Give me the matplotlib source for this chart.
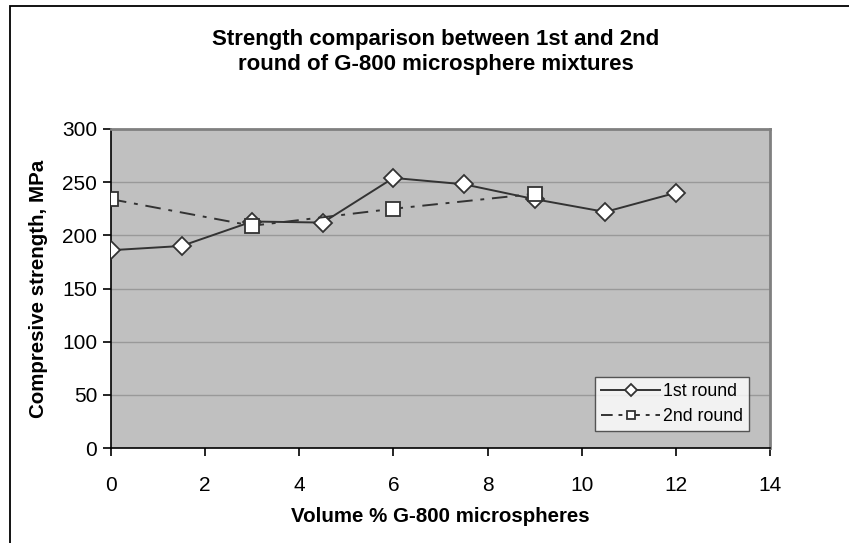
import numpy as np
import matplotlib.pyplot as plt
from matplotlib.patches import Rectangle as Rec

plt.rcParams['font.family'] = ['Liberation Sans', 'DejaVu Sans']

# data
x1 = [0, 1.5, 3, 4.5, 6, 7.5, 9, 10.5, 12]
y1 = [186, 190, 213, 212, 254, 248, 234, 222, 240]
x2 = [0, 3, 6, 9]
y2 = [234, 209, 225, 239]
xticks = [0, 2, 4, 6, 8, 10, 12, 14]
yticks = [0, 50, 100, 150, 200, 250, 300]

fig = plt.figure(figsize=(8.49, 5.43), dpi=100)
ax = fig.add_axes([111/849, 1 - 448/543, (770-111)/849, (448-129)/543])

# outer chart frame (only left/top show in the picture)
fig.patches.append(Rec((10/849, -0.1), 1.2, 1 - 6/543 + 0.1, transform=fig.transFigure,
                       fill=False, edgecolor='black', lw=1.3))

ax.set_facecolor('#c0c0c0')
for y in yticks[1:-1]:
    ax.axhline(y, color='#999999', lw=1, zorder=1)

ax.plot(x1, y1, '-', color='#333333', lw=1.4, marker='D', ms=9.5, mfc='white',
        mec='#333333', mew=1.3, label='1st round', zorder=3)
ax.plot(x2, y2, color='#333333', lw=1.4, dashes=[8, 4, 2, 4], marker='s', ms=9.5,
        mfc='white', mec='#333333', mew=1.3, label='2nd round', zorder=4)

ax.set_xlim(0, 14)
ax.set_ylim(0, 300)
ax.set_xticks(xticks)
ax.set_yticks(yticks)
ax.tick_params(labelsize=15, direction='out', length=6, width=1.2, color='black')
ax.tick_params(axis='x', pad=14)
ax.tick_params(axis='y', pad=4)
for s in ['top', 'right']:
    ax.spines[s].set_color('#808080')
    ax.spines[s].set_linewidth(2)
for s in ['left', 'bottom']:
    ax.spines[s].set_color('black')
    ax.spines[s].set_linewidth(1.2)

ax.set_xlabel('Volume % G-800 microspheres', fontsize=14.8, fontweight='bold', labelpad=9)
ax.set_ylabel('Compresive strength, MPa', fontsize=14.8, fontweight='bold', labelpad=10)
fig.text(436/849, 1 - 52/543, 'Strength comparison between 1st and 2nd\nround of G-800 microsphere mixtures',
         ha='center', va='center', fontsize=16, fontweight='bold', linespacing=1.2)

leg = ax.legend(loc='lower right', bbox_to_anchor=(749/849, 1 - 431/543), bbox_transform=fig.transFigure,
                fontsize=12.8, frameon=True, fancybox=False, edgecolor='#333333',
                handlelength=3.3, borderpad=0.35, labelspacing=0.45, handletextpad=0.15,
                borderaxespad=0, markerscale=0.65)
leg.get_frame().set_linewidth(1)
leg.get_lines()[1].set_dashes([6, 3, 2, 3])

fig.savefig('out.png', dpi=100)
